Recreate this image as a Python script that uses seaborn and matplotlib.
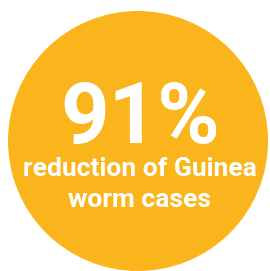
import matplotlib
matplotlib.use("Agg")
import matplotlib.pyplot as plt
from matplotlib.patches import Circle
import seaborn as sns

# Chart content
stat_value = 91
stat_suffix = "%"
caption_lines = ["reduction of Guinea", "worm cases"]

badge_color = "#F9B51B"
text_color = "white"

sns.set_theme(style="white")
plt.rcParams["font.family"] = ["Roboto", "DejaVu Sans"]

fig = plt.figure(figsize=(2.70, 2.71), dpi=100)
ax = fig.add_axes([0, 0, 1, 1])
ax.set_xlim(0, 270)
ax.set_ylim(271, 0)
ax.set_axis_off()

# background badge
ax.add_patch(Circle((138, 141), 130, facecolor=badge_color, edgecolor="none"))

# big number
ax.text(140, 143, f"{stat_value}{stat_suffix}", ha="center", va="baseline",
        fontsize=61, fontweight="bold", color=text_color)

# caption
for i, line in enumerate(caption_lines):
    ax.text(140, 176 + i * 31, line, ha="center", va="baseline",
            fontsize=19, fontweight="bold", color=text_color)

fig.savefig("out.png", dpi=100, facecolor="white")
plt.close(fig)
